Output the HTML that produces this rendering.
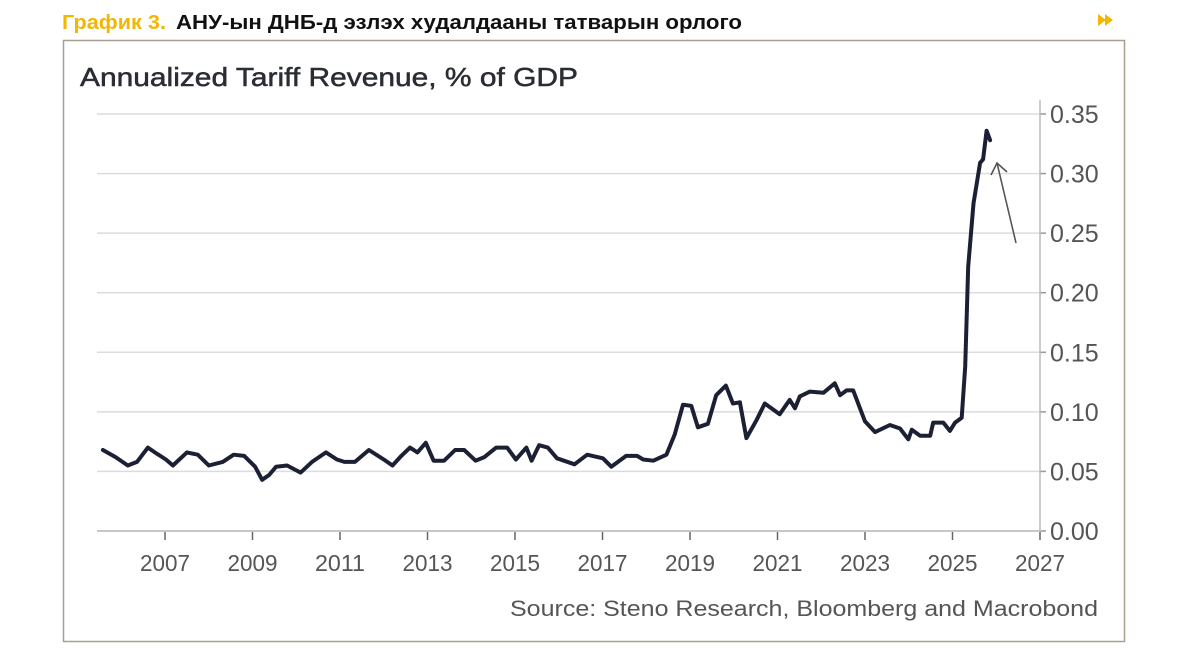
<!DOCTYPE html>
<html><head><meta charset="utf-8"><style>
html,body{margin:0;padding:0;background:#fff;}
svg{display:block;font-family:"Liberation Sans",sans-serif;}
</style></head><body>
<svg id="chart" width="1200" height="670" viewBox="0 0 1200 670">
<rect x="0" y="0" width="1200" height="670" fill="#fff"/>
<text x="62" y="29" font-size="20" font-weight="bold" fill="#f2b705" textLength="104" lengthAdjust="spacingAndGlyphs">График 3.</text>
<text x="176" y="29" font-size="20" font-weight="bold" fill="#111" textLength="566" lengthAdjust="spacingAndGlyphs">АНУ-ын ДНБ-д эзлэх худалдааны татварын орлого</text>
<g fill="#f2b705">
<polygon points="1098,14 1106,20 1098,26"/>
<polygon points="1105,14 1113,20 1105,26"/>
</g>
<rect x="63.5" y="40.5" width="1061" height="601" fill="none" stroke="#a89f90" stroke-width="1.5"/>
<text x="80" y="86" font-size="26" fill="#2a2d33" stroke="#2a2d33" stroke-width="0.5" textLength="498" lengthAdjust="spacingAndGlyphs">Annualized Tariff Revenue, % of GDP</text>
<g id="grid"></g>
<g id="xaxis"></g>
<g id="yaxis"></g>
<path id="line" fill="none" stroke="#1b2034" stroke-width="4" stroke-linejoin="round" stroke-linecap="round"/>
<g stroke="#555" stroke-width="1.6" fill="none">
<line x1="1016" y1="243" x2="997" y2="163"/>
<polyline points="991,175 997,163 1007,172"/>
</g>
<text x="1098" y="616" font-size="22" fill="#555" text-anchor="end" textLength="588" lengthAdjust="spacingAndGlyphs">Source: Steno Research, Bloomberg and Macrobond</text>
</svg>
<script>
const yTicks=[0,0.05,0.10,0.15,0.20,0.25,0.30,0.35];
const yTickLabels=["0.00","0.05","0.10","0.15","0.20","0.25","0.30","0.35"];
const xTicks=[2007,2009,2011,2013,2015,2017,2019,2021,2023,2025,2027];
const dates=[2005.58,2005.87,2006.15,2006.36,2006.61,2006.81,2007.02,2007.18,2007.5,2007.75,2008.0,2008.32,2008.57,2008.81,2009.06,2009.22,2009.38,2009.54,2009.79,2010.1,2010.36,2010.68,2010.93,2011.1,2011.34,2011.66,2012.0,2012.2,2012.4,2012.6,2012.77,2012.96,2013.14,2013.38,2013.63,2013.84,2014.1,2014.3,2014.57,2014.82,2015.02,2015.26,2015.38,2015.55,2015.75,2015.96,2016.36,2016.65,2017.01,2017.2,2017.54,2017.79,2017.93,2018.16,2018.46,2018.65,2018.84,2019.03,2019.18,2019.41,2019.6,2019.82,2019.98,2020.14,2020.29,2020.52,2020.71,2021.05,2021.28,2021.4,2021.51,2021.74,2022.05,2022.31,2022.43,2022.58,2022.73,2023.0,2023.23,2023.57,2023.8,2023.99,2024.07,2024.26,2024.49,2024.56,2024.79,2024.94,2025.06,2025.21,2025.29,2025.36,2025.48,2025.63,2025.7,2025.78,2025.86];
const values=[0.068,0.062,0.055,0.058,0.070,0.065,0.060,0.055,0.066,0.064,0.055,0.058,0.064,0.063,0.054,0.043,0.047,0.054,0.055,0.049,0.058,0.066,0.060,0.058,0.058,0.068,0.060,0.055,0.063,0.070,0.066,0.074,0.059,0.059,0.068,0.068,0.059,0.062,0.070,0.070,0.060,0.070,0.059,0.072,0.070,0.061,0.056,0.064,0.061,0.054,0.063,0.063,0.060,0.059,0.064,0.081,0.106,0.105,0.087,0.090,0.114,0.122,0.107,0.108,0.078,0.093,0.107,0.098,0.110,0.103,0.113,0.117,0.116,0.124,0.114,0.118,0.118,0.092,0.083,0.089,0.086,0.077,0.085,0.080,0.080,0.091,0.091,0.084,0.091,0.095,0.138,0.222,0.275,0.309,0.312,0.336,0.328];

const NS="http://www.w3.org/2000/svg";
function xScale(yr){return 165+(yr-2007)*43.75;}
function yScale(v){return 531-v*(417/0.35);}
function mk(tag,attrs,parent){const e=document.createElementNS(NS,tag);for(const k in attrs)e.setAttribute(k,attrs[k]);parent.appendChild(e);return e;}
const grid=document.getElementById('grid'),ya=document.getElementById('yaxis'),xa=document.getElementById('xaxis');
yTicks.forEach((t,i)=>{
  const y=yScale(t);
  const g=mk('line',{x1:97,x2:1040,y1:y,y2:y,stroke:i===0?'#c8c8c8':'#dcdcdc','stroke-width':i===0?2:1.5},grid);
  
  
  const tk=mk('line',{x1:1040,x2:1046,y1:y,y2:y,stroke:'#999','stroke-width':1.5},ya);
  
  
  const tx=mk('text',{x:1050,y:y+9,'font-size':25,fill:'#555'},ya);
  tx.textContent=yTickLabels[i];
  
  
});
const ax=mk('line',{x1:1040,x2:1040,y1:100,y2:531,stroke:'#bbb','stroke-width':1.5},ya);


xTicks.forEach(t=>{
  const x=xScale(t);
  const tk=mk('line',{x1:x,x2:x,y1:532,y2:540,stroke:'#666','stroke-width':1.5},xa);
  
  
  const tx=mk('text',{x:x,y:571,'font-size':23,fill:'#555','text-anchor':'middle',textLength:50,lengthAdjust:'spacingAndGlyphs'},xa);
  tx.textContent=String(t);
  
  
});
let d='';
dates.forEach((yr,i)=>{d+=(i?'L':'M')+xScale(yr).toFixed(1)+','+yScale(values[i]).toFixed(1);});
document.getElementById('line').setAttribute('d',d);
</script>
</body></html>
